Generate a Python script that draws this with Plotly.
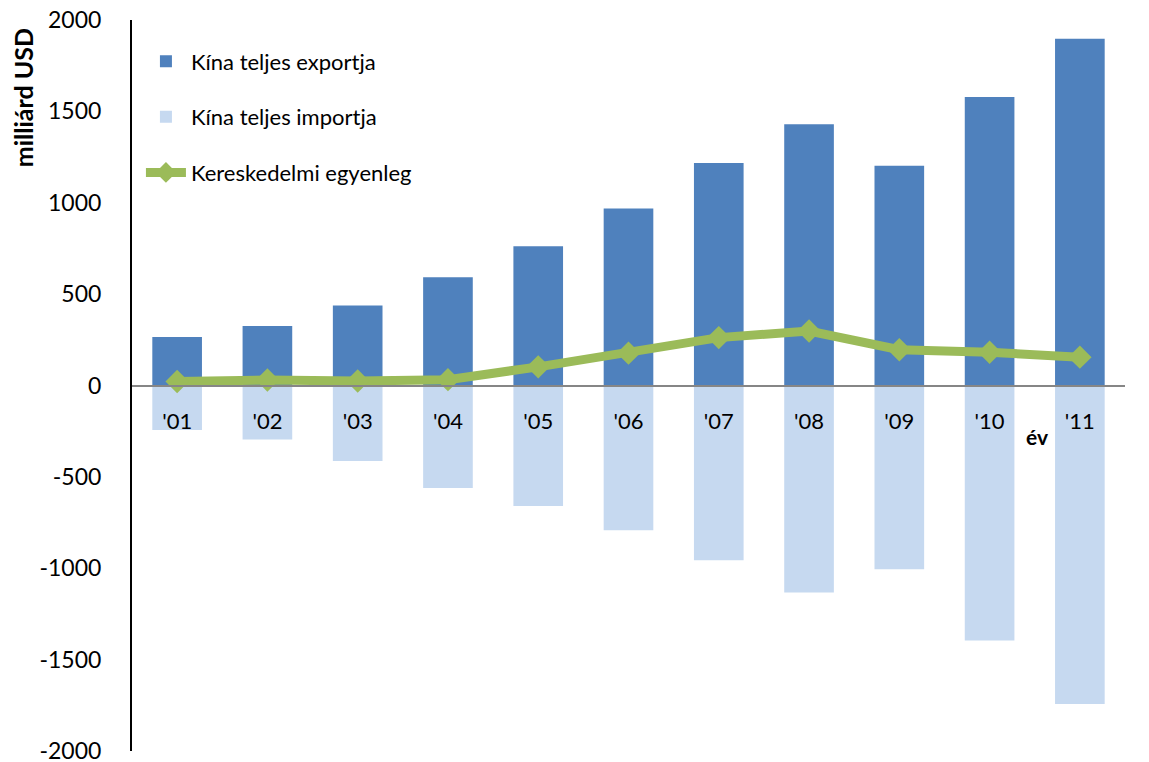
import plotly.graph_objects as go

years = ["'01", "'02", "'03", "'04", "'05", "'06", "'07", "'08", "'09", "'10", "'11"]
exports = [266, 326, 438, 593, 762, 969, 1218, 1429, 1202, 1578, 1898]
imports = [-244, -295, -413, -561, -660, -792, -956, -1133, -1006, -1396, -1743]
balance = [22, 30, 25, 32, 102, 177, 262, 298, 196, 182, 155]
y_ticks = [-2000, -1500, -1000, -500, 0, 500, 1000, 1500, 2000]
y_tick_text = ["-2000", "-1500", "-1000", "-500", "0", "500", "1000", "1500", "2000"]

FONT = "Lato"

fig = go.Figure()
fig.add_trace(go.Bar(x=years, y=exports, name="Kína teljes exportja",
                     marker=dict(color="#4F81BD", line=dict(width=0)),
                     legendgroup="a"))
fig.add_trace(go.Bar(x=years, y=imports, name="Kína teljes importja",
                     marker=dict(color="#C6D9F0", line=dict(width=0)),
                     legendgroup="b"))
fig.add_trace(go.Scatter(x=years, y=balance, name="Kereskedelmi egyenleg",
                         mode="lines+markers",
                         line=dict(color="#9BBB59", width=9),
                         marker=dict(symbol="diamond", size=18, color="#9BBB59"),
                         legendgroup="c"))

fig.update_layout(
    width=1141, height=754,
    margin=dict(l=124, r=24, t=12, b=11),
    paper_bgcolor="white", plot_bgcolor="white",
    barmode="relative", bargap=0.45,
    font=dict(family=FONT, size=22, color="black"),
    showlegend=True,
    legend=dict(x=0.009, y=0.972, xanchor="left", yanchor="top",
                bgcolor="rgba(0,0,0,0)", font=dict(size=22, family=FONT),
                tracegroupgap=24, itemwidth=40, traceorder="grouped"),
    xaxis=dict(type="category", range=[-0.5, len(years) - 0.5],
               showgrid=False, zeroline=False,
               showline=True, linecolor="#868686", linewidth=2,
               anchor="free", position=0.5, ticks="", automargin=False,
               ticklabelstandoff=16, tickfont=dict(size=22, family=FONT)),
    yaxis=dict(range=[-2000, 2000], tickvals=y_ticks, ticktext=y_tick_text,
               showgrid=False, zeroline=False, automargin=False,
               ticklabeloverflow="allow",
               showline=True, linecolor="black", linewidth=2, ticks="",
               ticklabelstandoff=24, tickfont=dict(size=23, family=FONT)),
    annotations=[
        dict(text="<b>milliárd USD</b>", textangle=-90, xref="paper", yref="paper",
             x=-0.109, y=0.894, xanchor="center", yanchor="middle", showarrow=False,
             font=dict(size=25, family=FONT)),
        dict(text="<b>év</b>", xref="x", yref="y", x=9.53, y=-280,
             showarrow=False, font=dict(size=21, family=FONT)),
    ],
)

fig.write_html("out.html")
